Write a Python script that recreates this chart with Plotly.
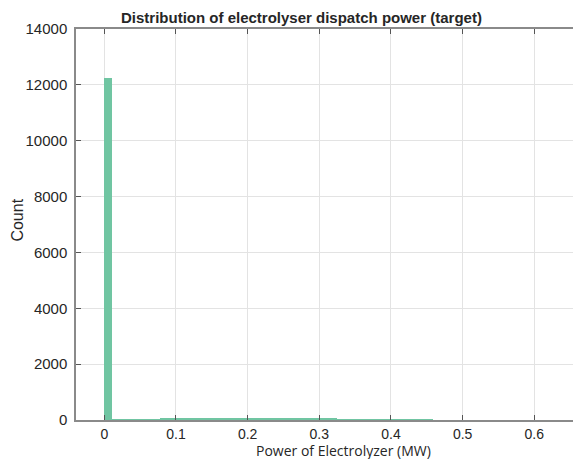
import numpy as np
import plotly.graph_objects as go

# Histogram of electrolyser dispatch power (MW)
bin_start = 0.0
bin_width = 0.0112
counts = [12240, 15, 25, 30, 25, 30, 35, 40, 40, 45, 45, 50, 55, 60, 70, 80,
          85, 80, 75, 65, 55, 50, 55, 65, 70, 60, 50, 45, 40, 35, 30, 28,
          25, 20, 16, 12, 9, 6, 4, 3, 2]

x_ticks = [0, 0.1, 0.2, 0.3, 0.4, 0.5, 0.6]
x_tick_text = ["0", "0.1", "0.2", "0.3", "0.4", "0.5", "0.6"]
y_ticks = [0, 2000, 4000, 6000, 8000, 10000, 12000, 14000]
y_tick_text = ["0", "2000", "4000", "6000", "8000", "10000", "12000", "14000"]

title_text = "Distribution of electrolyser dispatch power (target)"
x_label = "Power of Electrolyzer (MW)"
y_label = "Count"

centers = bin_start + bin_width * (np.arange(len(counts)) + 0.5)

fig = go.Figure(go.Bar(
    x=centers,
    y=counts,
    width=bin_width,
    marker=dict(color="rgb(112,197,162)", line=dict(width=0)),
    hoverinfo="x+y",
))

tick_font = dict(family="Liberation Sans, Arial, sans-serif", size=15, color="#262626")
x_tick_font = dict(family="Liberation Sans, Arial, sans-serif", size=14, color="#262626")

fig.update_layout(
    width=573,
    height=459,
    margin=dict(l=76, r=0, t=29, b=39),
    paper_bgcolor="white",
    plot_bgcolor="white",
    showlegend=False,
    bargap=0,
    xaxis=dict(
        range=[-0.0395, 0.654],
        tickvals=x_ticks,
        ticktext=x_tick_text,
        ticks="inside",
        ticklen=5,
        tickcolor="#555555",
        showline=True,
        linecolor="#8a8a8a",
        linewidth=1.5,
        mirror="ticks",
        showgrid=True,
        gridcolor="#e3e3e3",
        gridwidth=1,
        zeroline=False,
        tickfont=x_tick_font,
        ticklabelstandoff=0,
    ),
    yaxis=dict(
        range=[0, 14000],
        tickvals=y_ticks,
        ticktext=y_tick_text,
        ticks="inside",
        ticklen=5,
        tickcolor="#555555",
        showline=True,
        linecolor="#8a8a8a",
        linewidth=1.5,
        mirror=False,
        showgrid=True,
        gridcolor="#e3e3e3",
        gridwidth=1,
        zeroline=False,
        tickfont=tick_font,
        ticklabelstandoff=4,
    ),
    annotations=[
        dict(text="<b>" + title_text + "</b>", xref="paper", yref="paper",
             x=0.453, y=1.0, yshift=1, xanchor="center", yanchor="bottom",
             showarrow=False,
             font=dict(family="Liberation Sans, Arial, sans-serif", size=15, color="#262626")),
        dict(text=x_label, xref="paper", yref="paper",
             x=0.539, y=0, yshift=-30, xanchor="center", yanchor="middle",
             showarrow=False,
             font=dict(family="Open Sans, sans-serif", size=14, color="#262626")),
        dict(text=y_label, xref="paper", yref="paper",
             x=0, xshift=-58, y=0.51, xanchor="center", yanchor="middle",
             textangle=-90, showarrow=False,
             font=dict(family="Liberation Sans, Arial, sans-serif", size=16, color="#262626")),
    ],
)

fig.write_html("out.html")
